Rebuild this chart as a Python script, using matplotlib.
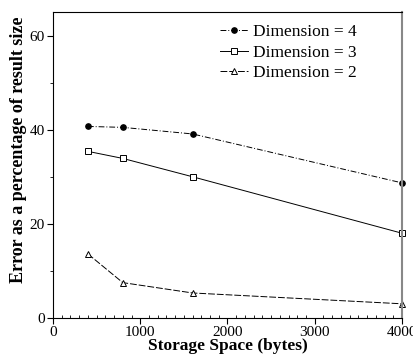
from matplotlib import pyplot as plt
from matplotlib.ticker import MultipleLocator

storage = [400, 800, 1600, 4000]
dim4 = [40.7, 40.5, 39.1, 28.7]
dim3 = [35.4, 33.9, 30.0, 18.0]
dim2 = [13.6, 7.5, 5.3, 3.0]

plt.rcParams['font.family'] = ['Liberation Serif', 'DejaVu Serif']

fig = plt.figure(figsize=(4.14, 3.56), dpi=100)
ax = fig.add_axes([0.128, 0.107, 0.843, 0.859])

ax.plot(storage, dim4, color='black', lw=0.7, linestyle=(0, (6, 2, 1, 2)),
        marker='o', ms=3.8, mfc='black', label='Dimension = 4', clip_on=False)
ax.plot(storage, dim3, color='black', lw=0.7, linestyle='-',
        marker='s', ms=3.8, mfc='white', mew=0.7, label='Dimension = 3', clip_on=False)
ax.plot(storage, dim2, color='black', lw=0.7, linestyle=(0, (7, 2)),
        marker='^', ms=3.8, mfc='white', mew=0.7, label='Dimension = 2', clip_on=False)

ax.set_xlim(0, 4000)
ax.set_ylim(0, 65)
ax.xaxis.set_major_locator(MultipleLocator(1000))
ax.xaxis.set_minor_locator(MultipleLocator(100))
ax.yaxis.set_major_locator(MultipleLocator(20))
ax.yaxis.set_minor_locator(MultipleLocator(10))
ax.tick_params(axis='both', which='major', direction='out', length=4, labelsize=11, pad=2)
ax.tick_params(axis='x', which='minor', direction='in', length=2)
ax.tick_params(axis='y', which='minor', direction='out', length=2)

ax.spines['right'].set_color('#888888')
ax.spines['right'].set_linewidth(1.5)

ax.set_xlabel('Storage Space (bytes)', fontweight='bold', fontsize=12.5, labelpad=-1)
ax.set_ylabel('Error as a percentage of result size', fontweight='bold', fontsize=13)
ax.yaxis.set_label_coords(-0.075, 0.55)

ax.legend(loc='upper right', bbox_to_anchor=(0.905, 1.0), frameon=False, fontsize=12.5,
          handlelength=1.6, handletextpad=0.3, labelspacing=0.25, borderaxespad=0.3)

fig.savefig('out.png', dpi=100)
